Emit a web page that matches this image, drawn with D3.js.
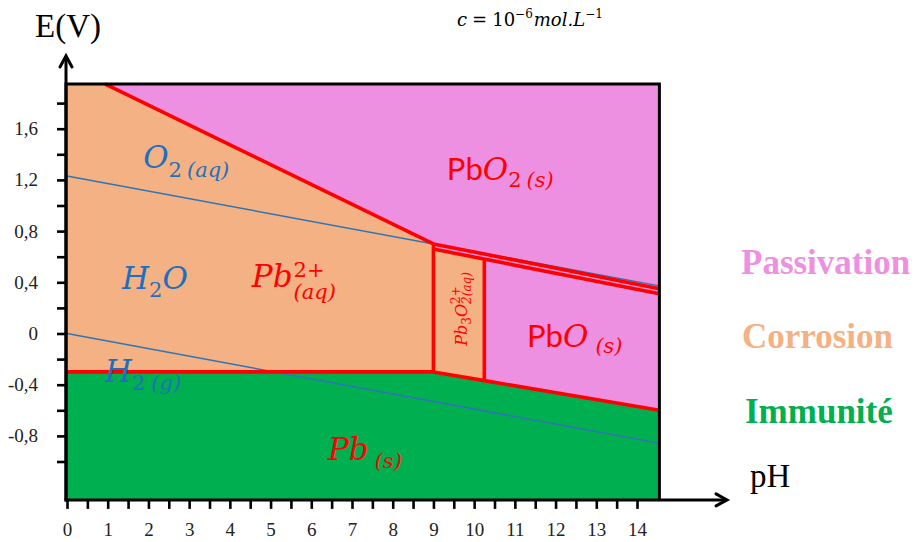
<!DOCTYPE html>
<html>
<head>
<meta charset="utf-8">
<script src="https://cdn.jsdelivr.net/npm/d3@7"></script>
<style>
  html, body { margin: 0; padding: 0; background: #fff; }
  svg { display: block; }
</style>
</head>
<body>
<svg id="chart" width="918" height="542"></svg>
<script>
// Pourbaix (E-pH) diagram of lead, c = 1e-6 mol/L

// Frame of the diagram (pH, volts)
const PH_MAX = 14.55;
const E_TOP = 1.95;
const E_BOTTOM = -1.30;

// Tick values
const pHTicks = d3.range(0, 14.01, 0.5);
const eTicks = d3.range(-1.0, 1.81, 0.2);
const eLabels = [-0.8, -0.4, 0, 0.4, 0.8, 1.2, 1.6];

// Boundaries [pH, E]
const pb2PbO2 = [[0.93, 1.95], [9, 0.70]];          // Pb2+ / PbO2
const pbPb2 = [[0, -0.30], [9, -0.30]];              // Pb / Pb2+
const pbOxides = [[9, -0.30], [10.25, -0.368], [14.55, -0.60]]; // Pb / Pb3O2(2+), Pb / PbO
const pbo2Upper = [[9, 0.70], [14.55, 0.35]];        // PbO2 upper boundary
const pbo2Lower = [[9, 0.66], [14.55, 0.31]];        // PbO2 lower boundary
const pb3Left = [[9, 0.70], [9, -0.30]];             // Pb2+ / Pb3O2(2+)
const pb3Right = [[10.25, 0.581], [10.25, -0.368]];  // Pb3O2(2+) / PbO

// Water stability lines
const waterO2 = [[0, 1.23], [14.55, 0.372]];
const waterH2 = [[0, 0], [14.55, -0.858]];

// Domain legend
const legendItems = ["Passivation", "Corrosion", "Immunité"];

const RED = "#FF0000", BLUE = "#1F6FBF";
const PINK = "#EE90E2", ORANGE = "#F4B183", GREEN = "#00B050";
const MATH = "DejaVu Serif", ROMAN = "Liberation Serif", SANS = "Lato";

const svg = d3.select("#chart");
const x = d3.scaleLinear().domain([0, 14]).range([67, 637]);
const y = d3.scaleLinear().domain([-0.8, 1.6]).range([435.9, 128.7]);
const line = d3.line().x(d => x(d[0])).y(d => y(d[1]));

// Domains
const plot = svg.append("g");
plot.append("rect")
  .attr("x", x(0)).attr("y", y(E_TOP))
  .attr("width", x(PH_MAX) - x(0)).attr("height", y(E_BOTTOM) - y(E_TOP))
  .attr("fill", PINK);

const corrosionA = [[0, E_TOP], ...pb2PbO2, [9, -0.30], [0, -0.30]];
const corrosionB = [pbo2Lower[0], [10.25, pb3Right[0][1]], pb3Right[1], [9, -0.30]];
const immunity = [...pbPb2, ...pbOxides.slice(1), [PH_MAX, E_BOTTOM], [0, E_BOTTOM]];

[[corrosionA, ORANGE], [corrosionB, ORANGE], [immunity, GREEN]].forEach(([pts, c]) => {
  plot.append("path").attr("d", line(pts) + "Z").attr("fill", c);
});

// Water lines
[waterO2, waterH2].forEach(pts => {
  plot.append("path").attr("d", line(pts)).attr("fill", "none")
    .attr("stroke", "#2E75B6").attr("stroke-width", 1.5);
});

// Boundaries
[pb2PbO2, pbPb2, pbOxides, pbo2Upper, pbo2Lower, pb3Left, pb3Right].forEach(pts => {
  plot.append("path").attr("d", line(pts)).attr("fill", "none")
    .attr("stroke", RED).attr("stroke-width", 3.6).attr("stroke-linejoin", "round");
});

// Text built from pieces (sub/superscripts, stacked indices)
function mathText(parent, px, py, parts, color, rotate) {
  const g = parent.append("g")
    .attr("transform", `translate(${px},${py}) rotate(${rotate || 0})`);
  let cursor = 0, stackStart = 0;
  parts.forEach(p => {
    const x0 = p.stack ? stackStart : cursor + (p.dx || 0);
    if (!p.stack) stackStart = x0;
    const t = g.append("text")
      .attr("x", x0).attr("y", p.dy || 0)
      .attr("font-family", p.family || MATH)
      .attr("font-size", p.size)
      .attr("font-style", p.italic === false ? "normal" : "italic")
      .attr("fill", color)
      .text(p.t);
    const w = t.node().getComputedTextLength();
    cursor = Math.max(cursor, x0 + w);
  });
  return g;
}

const BIG = 31, SUB = 21;
const labels = [
  { at: [1.87, 1.293], color: BLUE, parts: [
      { t: "O", size: BIG }, { t: "2", size: SUB, dy: 9, italic: false },
      { t: "(aq)", size: SUB, dy: 9, dx: 5 }] },
  { at: [1.35, 0.348], color: BLUE, parts: [
      { t: "H", size: BIG }, { t: "2", size: SUB, dy: 8, italic: false }, { t: "O", size: BIG }] },
  { at: [0.93, -0.379], color: BLUE, parts: [
      { t: "H", size: BIG }, { t: "2", size: SUB, dy: 8, italic: false },
      { t: "(g)", size: SUB, dy: 8, dx: 6 }] },
  { at: [4.54, 0.363], color: RED, parts: [
      { t: "Pb", size: BIG }, { t: "2+", size: SUB, dy: -10, dx: 1, italic: false },
      { t: "(aq)", size: SUB, dy: 12, stack: true }] },
  { at: [9.33, 1.20], color: RED, parts: [
      { t: "Pb", size: 31, family: SANS, italic: false }, { t: "O", size: BIG },
      { t: "2", size: SUB, dy: 7, italic: false }, { t: "(s)", size: SUB, dy: 7, dx: 5 }] },
  { at: [11.3, -0.105], color: RED, parts: [
      { t: "Pb", size: 31, family: SANS, italic: false }, { t: "O", size: BIG },
      { t: "(s)", size: SUB, dy: 6, dx: 7 }] },
  { at: [6.41, -0.988], color: RED, parts: [
      { t: "Pb", size: BIG }, { t: "(s)", size: SUB, dy: 8, dx: 6 }] }
];
labels.forEach(l => mathText(svg, x(l.at[0]), y(l.at[1]), l.parts, l.color));

// Pb3O2(2+) label, written upwards in its narrow band
mathText(svg, x(9.82), y(-0.095), [
  { t: "Pb", size: 16 }, { t: "3", size: 12, dy: 4, italic: false }, { t: "O", size: 16 },
  { t: "2+", size: 12, dy: -7, italic: false }, { t: "2(aq)", size: 12, dy: 4, stack: true }
], RED, -90);

// Axes
const axisColor = "#000";
const xAxis = d3.axisBottom(x).tickValues(pHTicks).tickSize(9).tickPadding(14)
  .tickFormat(d => Number.isInteger(d) ? String(d) : "");
const yAxis = d3.axisLeft(y).tickValues(eTicks).tickSize(9).tickPadding(19)
  .tickFormat(d => {
    const r = Math.round(d * 10) / 10;
    const hit = eLabels.some(v => Math.abs(v - r) < 1e-6);
    return hit ? (r === 0 ? "0" : String(r).replace(".", ",")) : "";
  });

const gx = svg.append("g").attr("transform", `translate(0,${y(E_BOTTOM)})`).call(xAxis);
const gy = svg.append("g").attr("transform", `translate(${x(0) - 1},0)`).call(yAxis);
[gx, gy].forEach(g => {
  g.select(".domain").remove();
  g.selectAll(".tick line").attr("stroke", axisColor).attr("stroke-width", 2.6);
  g.selectAll(".tick text").attr("font-family", ROMAN).attr("font-size", 19).attr("fill", "#222");
});

// Frame and arrowed axes
const frame = svg.append("g").attr("fill", "none").attr("stroke", axisColor).attr("stroke-width", 3);
frame.append("path").attr("d",
  `M${x(0) - 1},${y(E_BOTTOM)} L${x(0) - 1},${y(E_TOP)} L${x(PH_MAX)},${y(E_TOP)} L${x(PH_MAX)},${y(E_BOTTOM)}`);
frame.append("line").attr("x1", x(0) - 1).attr("x2", x(0) - 1).attr("y1", y(E_BOTTOM) + 1.5).attr("y2", 56);
frame.append("line").attr("x1", x(0) - 2.5).attr("x2", 727).attr("y1", y(E_BOTTOM)).attr("y2", y(E_BOTTOM));
frame.append("path").attr("d", `M${x(0) - 7},67 L${x(0) - 1},56 L${x(0) + 5},67`)
  .attr("stroke-linejoin", "miter").attr("stroke-linecap", "round");
frame.append("path").attr("d", `M716,${y(E_BOTTOM) - 6} L727,${y(E_BOTTOM)} L716,${y(E_BOTTOM) + 6}`)
  .attr("stroke-linejoin", "miter").attr("stroke-linecap", "round");

// Axis titles
svg.append("text").attr("x", 35).attr("y", 37).attr("font-family", ROMAN)
  .attr("font-size", 33).attr("fill", "#000").text("E(V)");
svg.append("text").attr("x", 750).attr("y", 487).attr("font-family", ROMAN)
  .attr("font-size", 33).attr("fill", "#000").text("pH");

// Concentration
mathText(svg, 457, 26, [
  { t: "c", size: 18 }, { t: "=", size: 18, italic: false, dx: 5 },
  { t: "10", size: 18, italic: false, dx: 5 },
  { t: "−6", size: 12, italic: false, dy: -8 }, { t: "mol.L", size: 18, dx: 1 },
  { t: "−1", size: 12, italic: false, dy: -8 }
], "#000");

// Legend
const legendColors = [PINK, ORANGE, GREEN];
const legendY = [274, 348, 423];
const legendX = [741, 742, 745];
svg.append("g").selectAll("text").data(legendItems).join("text")
  .attr("x", (d, i) => legendX[i]).attr("y", (d, i) => legendY[i])
  .attr("font-family", ROMAN).attr("font-weight", "bold").attr("font-size", 35)
  .attr("fill", (d, i) => legendColors[i]).text(d => d);
</script>
</body>
</html>
